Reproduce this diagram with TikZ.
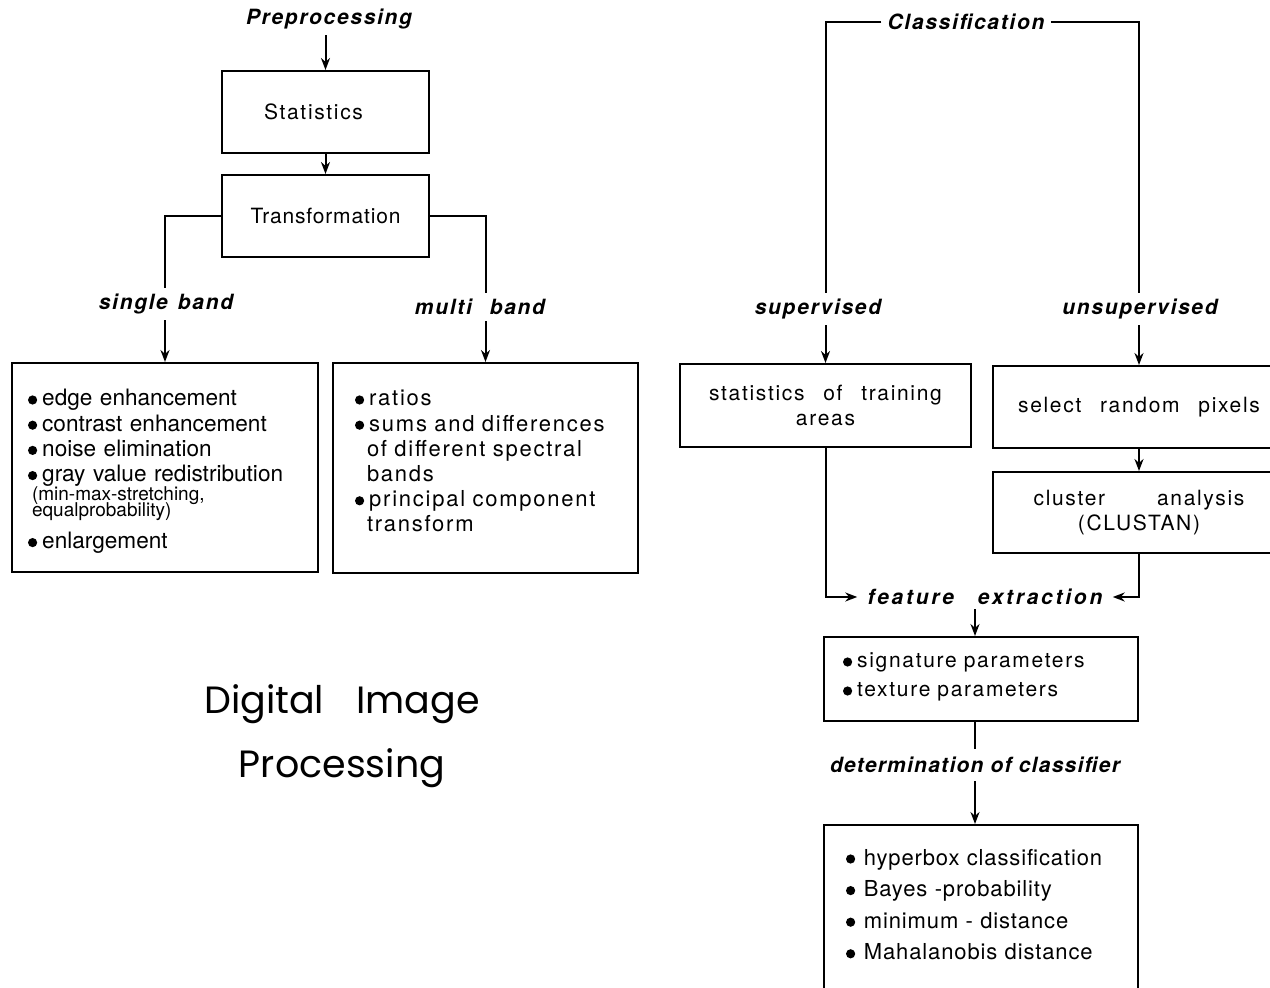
\documentclass[tikz,border=0pt]{standalone}
\usepackage{fontspec}
\usepackage{tikz}
\usetikzlibrary{arrows.meta}
\setmainfont{TeX Gyre Heros}
\newfontfamily\spaced[LetterSpace=8,WordSpace=2.5]{TeX Gyre Heros}
\newfontfamily\titlefont{Poppins}
\newcommand\bul{\tikz[x=1pt,y=1pt,baseline=-3pt]\fill (0,0) circle (2.3);\hspace{2.5pt}}

\begin{document}
\begin{tikzpicture}[x=0.5pt,y=-0.5pt,
        box/.style={draw,line width=1pt,inner sep=0pt,font=\spaced\fontsize{10.5}{12.5}\selectfont,align=center},
        list/.style={box,align=left,anchor=north,inner ysep=0pt},
        lbl/.style={font=\spaced\bfseries\itshape\fontsize{10.5}{12}\selectfont,inner xsep=3pt,inner ysep=3pt},
        line/.style={line width=1pt},
        arr/.style={line,-{Stealth[length=6pt,width=4.5pt]}}]
    \useasboundingbox (0,0) rectangle (1270,988);
    % preprocessing
    \node[lbl] (Pre) at (329,19) {Preprocessing};
    \node[box,minimum width=103.5pt,minimum height=41pt,text depth=0pt] (Stat) at (325.5,112) {Statistics\hspace{12pt}};
    \node[box,minimum width=103.5pt,minimum height=41pt,
          font=\spaced\addfontfeature{LetterSpace=4}\fontsize{10.5}{12.5}\selectfont] (Trans) at (325.5,216) {Transformation};
    \node[lbl] (Single) at (166,304) {single\hspace{5pt}band};
    \node[lbl] (Multi) at (480,307) {multi\hspace{9pt}band};
    \node[list,minimum width=153pt,text width=137pt,text height=21.5pt,text depth=83pt,
          font=\fontsize{11.3}{12.6}\selectfont] (L) at (165,362) {%
        \lineskiplimit=-100pt
        \bul edge enhancement\\
        \bul contrast enhancement\\
        \bul noise elimination\\
        \bul gray value redistribution\\[-3.1pt]
        {\fontsize{9.5}{12.6}\selectfont\hspace*{2pt}(min-max-stretching,\\[-4.6pt]
        \hspace*{2pt}equalprobability)\\[3.4pt]}
        \bul enlargement};
    \node[list,minimum width=152.5pt,text width=130.5pt,text height=21.5pt,text depth=83.5pt,
          font=\spaced\fontsize{11}{12.6}\selectfont] (M) at (485.5,362) {%
        \bul ratios\\
        \bul sums and differences\\
        \hspace*{6pt}of different spectral\\
        \hspace*{6pt}bands\\
        \bul principal component\\
        \hspace*{6pt}transform};
    \node[font=\titlefont\fontsize{19}{32}\selectfont,align=center] (Title) at (342,736)
        {Digital\hspace{16pt}Image\\ Processing};

    \draw[arr] (Pre.south -| Stat.north) -- (Stat.north);
    \draw[arr] (Stat) -- (Trans);
    \draw[line] (Trans.west) -| (Single.north -| L.north);
    \draw[line] (Trans.east) -| (Multi.north -| M.north);
    \draw[arr] (Single.south -| L.north) -- (L.north);
    \draw[arr] (Multi.south -| M.north) -- (M.north);

    % classification
    \node[lbl] (Class) at (966,22) {Classification};
    \node[lbl] (Sup) at (818,309) {supervised};
    \node[lbl] (Unsup) at (1140,309) {unsupervised};
    \node[box,minimum width=145.5pt,minimum height=41.5pt] (Train) at (825.5,405.5)
        {statistics of training\\ areas};
    \node[box,minimum width=146pt,minimum height=41pt] (Random) at (1139,407)
        {select random pixels};
    \node[box,minimum width=146pt,minimum height=40.5pt] (Cluster) at (1139,512.5)
        {cluster\hspace{26pt}analysis\\ (CLUSTAN)};
    \node[lbl,inner ysep=2pt,inner xsep=5pt,
          font=\spaced\addfontfeature{LetterSpace=13}\bfseries\itshape\fontsize{10.5}{12}\selectfont]
        (Feat) at (985,597) {feature\hspace{12pt}extraction};
    \node[list,minimum width=157pt,text width=138pt,text height=15.5pt,text depth=26.5pt,
          font=\spaced\fontsize{10.5}{14.5}\selectfont] (Sig) at (981,636) {%
        \bul signature parameters\\
        \bul texture parameters};
    \node[lbl,inner ysep=4pt,text depth=0pt,
          font=\addfontfeature{LetterSpace=6}\bfseries\itshape\fontsize{10.5}{12}\selectfont]
        (Det) at (975,765) {determination of classifier};
    \node[list,minimum width=157pt,text width=135pt,text height=20pt,text depth=100pt,
          font=\addfontfeature{LetterSpace=4}\fontsize{11}{15.8}\selectfont] (Final) at (981,824) {%
        \bul\,hyperbox classification\\
        \bul\,Bayes -probability\\
        \bul\,minimum - distance\\
        \bul\,Mahalanobis distance};

    \draw[line] (Class.west) -| (Sup.north -| Train.north);
    \draw[line] (Class.east) -| (Unsup.north -| Random.north);
    \draw[arr] (Sup.south -| Train.north) -- (Train.north);
    \draw[arr] (Unsup.south -| Random.north) -- (Random.north);
    \draw[arr] (Random) -- (Cluster);
    \draw[arr] (Train.south) |- (Feat.west);
    \draw[arr] (Cluster.south) |- (Feat.east);
    \draw[arr] (Feat.south -| Det.north) -- (Sig.north -| Det.north);
    \draw[line] (Sig.south -| Det.north) -- (Det.north);
    \draw[arr] (Det.south) -- (Det.south |- Final.north);
\end{tikzpicture}
\end{document}
